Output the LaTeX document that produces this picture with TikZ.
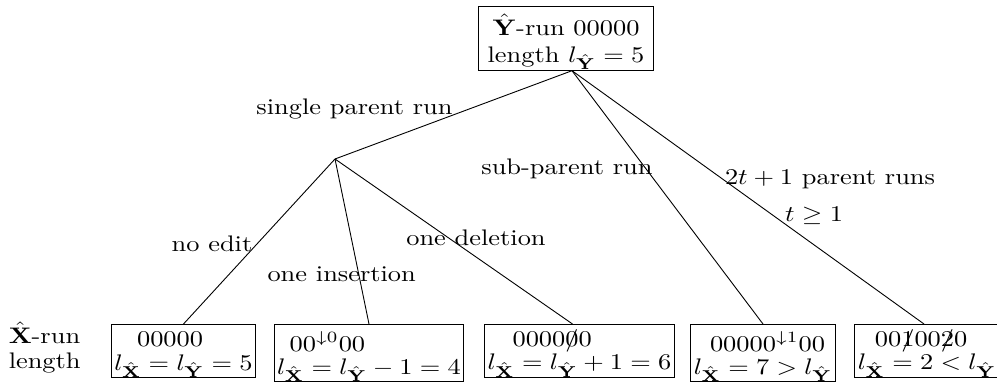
\documentclass[tikz,border=0pt]{standalone}
\usetikzlibrary{calc}
\newcommand\sx[1]{\raisebox{0pt}[\height][0pt]{\scalebox{1.173}[1]{#1}}}
\newcommand\strk[1]{\ooalign{$#1$\cr\hidewidth$/$\hidewidth\cr}}
\begin{document}
\begin{tikzpicture}[x=0.4444pt,y=-0.4444pt,
  rootbox/.style={draw, line width=0.4pt, align=center, inner xsep=4pt, inner ysep=3.33pt},
  leafbox/.style={draw, line width=0.4pt, align=left, anchor=north, inner xsep=1.3pt, inner ysep=3.33pt,
    font=\fontsize{10}{10.4}\selectfont},
  lab/.style={anchor=base, inner sep=0pt}]
\useasboundingbox (0,0) rectangle (997,388);

\node[rootbox, anchor=south] (root) at (566,70.7)
  {\sx{$\hat{\mathbf{Y}}$-run 00000}\\\sx{length $l_{\hat{\mathbf{Y}}}=5$}};

\node[leafbox] (b1) at (183.5,324)
  {\hspace*{10.1pt}\sx{00000}\\\sx{$l_{\hat{\mathbf{X}}}=l_{\hat{\mathbf{Y}}}=5$}};
\node[leafbox] (b2) at (369,324)
  {\hspace*{5.6pt}\sx{$00^{\downarrow 0}00$}\\\sx{$l_{\hat{\mathbf{X}}}=l_{\hat{\mathbf{Y}}}-1=4$}};
\node[leafbox] (b3) at (579.5,324)
  {\hspace*{11.1pt}\sx{$0000$\strk{0}$0$}\\\sx{$l_{\hat{\mathbf{X}}}=l_{\hat{\mathbf{Y}}}+1=6$}};
\node[leafbox] (b4) at (763,324)
  {\hspace*{7.2pt}\sx{$00000^{\downarrow 1}00$}\\\sx{$l_{\hat{\mathbf{X}}}=7>l_{\hat{\mathbf{Y}}}$}};
\node[leafbox] (b5) at (927,324)
  {\hspace*{7.6pt}\sx{$00$\strk{1}$00$\strk{2}$0$}\\\sx{$l_{\hat{\mathbf{X}}}=2<l_{\hat{\mathbf{Y}}}$}};

\node[anchor=north west, inner sep=0pt, align=left, font=\fontsize{10}{11.2}\selectfont] (xl) at (8.3,321.3)
  {\sx{$\hat{\mathbf{X}}$-run}\\\sx{length}};

\coordinate (rj) at ($(root.south)+(6,0)$);
\coordinate (sp) at (335,159);

\draw[line width=0.4pt] (rj) -- (sp);
\draw[line width=0.4pt] (rj) -- (b4.north);
\draw[line width=0.4pt] (rj) -- ($(b5.north)+(-3,0)$);
\draw[line width=0.4pt] (sp) -- (b1.north);
\draw[line width=0.4pt] (sp) -- (b2.north);
\draw[line width=0.4pt] (sp) -- ($(b3.north)+(-7,0)$);

\node[lab] (l1) at (354.5,115) {\sx{single parent run}};
\node[lab] (l2) at (567,175) {\sx{sub-parent run}};
\node[lab] (l3) at (830,185) {\sx{$2t+1$ parent runs}};
\node[lab] (l4) at (814,221.7) {\sx{$t\geq 1$}};
\node[lab] (l5) at (212,251.7) {\sx{no edit}};
\node[lab] (l6) at (341.7,281.7) {\sx{one insertion}};
\node[lab] (l7) at (476,246) {\sx{one deletion}};
\end{tikzpicture}
\end{document}
